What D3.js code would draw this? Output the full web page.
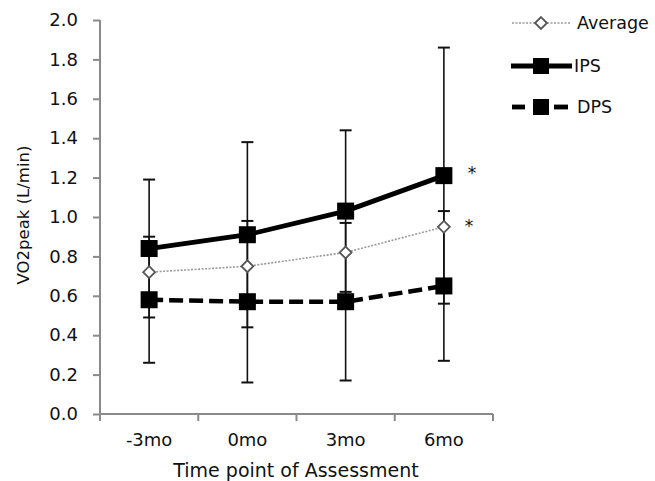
<!DOCTYPE html>
<html>
<head>
<meta charset="utf-8">
<script src="https://cdn.jsdelivr.net/npm/d3@7"></script>
<style>
  body { margin: 0; background: #fff; }
  text { font-family: "DejaVu Sans", Verdana, sans-serif; fill: #111; }
</style>
</head>
<body>
<div id="chart"></div>
<script>
const timepoints = ["-3mo", "0mo", "3mo", "6mo"]
const yTicks = [0, 0.2, 0.4, 0.6, 0.8, 1.0, 1.2, 1.4, 1.6, 1.8, 2.0]

const average = [0.72, 0.75, 0.82, 0.95]
const ips = [0.84, 0.91, 1.03, 1.21]
const ipsErr = [0.35, 0.47, 0.41, 0.65]
const dps = [0.58, 0.57, 0.57, 0.65]
const dpsErr = [0.32, 0.41, 0.40, 0.38]
const significant = ["6mo"]

const width = 655, height = 481
const margin = { top: 20, right: 162, bottom: 67, left: 100 }
const innerW = width - margin.left - margin.right
const innerH = height - margin.top - margin.bottom

const svg = d3.select("#chart")
    .append("svg")
    .attr("width", width)
    .attr("height", height)

const g = svg.append("g")
    .attr("transform", `translate(${margin.left},${margin.top})`)

const x = d3.scaleBand()
    .domain(timepoints)
    .range([0, innerW])

const y = d3.scaleLinear()
    .domain([0, 2])
    .range([innerH, 0])

const cx = d => x(d) + x.bandwidth() / 2

// y axis
const yAxis = g.append("g")
    .call(d3.axisLeft(y)
        .tickValues(yTicks)
        .tickSize(7)
        .tickPadding(15)
        .tickFormat(d3.format(".1f")))
yAxis.select(".domain").attr("stroke", "#8a8a8a").attr("stroke-width", 2).attr("d", `M0,0V${innerH}`)
yAxis.selectAll(".tick line").attr("stroke", "#8a8a8a").attr("stroke-width", 2)
yAxis.selectAll(".tick text").style("font-size", "18px").attr("fill", "#111")

// x axis, ticks sit between the categories
const xAxis = g.append("g")
    .attr("transform", `translate(0,${innerH})`)
xAxis.append("line")
    .attr("x1", 0).attr("x2", innerW)
    .attr("stroke", "#8a8a8a").attr("stroke-width", 2)
xAxis.selectAll(".xtick")
    .data(timepoints.concat(["end"]))
    .join("line")
    .attr("x1", (d, i) => i < timepoints.length ? x(d) : innerW)
    .attr("x2", (d, i) => i < timepoints.length ? x(d) : innerW)
    .attr("y1", 0).attr("y2", 7)
    .attr("stroke", "#8a8a8a").attr("stroke-width", 2)
xAxis.selectAll(".xlabel")
    .data(timepoints)
    .join("text")
    .attr("x", d => cx(d))
    .attr("y", 32)
    .attr("text-anchor", "middle")
    .style("font-size", "18px")
    .text(d => d)

svg.append("text")
    .attr("x", 296)
    .attr("y", 477)
    .attr("text-anchor", "middle")
    .style("font-size", "19px")
    .text("Time point of Assessment")

svg.append("text")
    .attr("transform", `translate(29,${margin.top + innerH / 2 - 2}) rotate(-90)`)
    .attr("text-anchor", "middle")
    .style("font-size", "16.5px")
    .text("VO2peak (L/min)")

// error bars
function errorBars(vals, errs) {
    const eb = g.append("g")
    timepoints.forEach((t, i) => {
        const lo = vals[i] - errs[i], hi = vals[i] + errs[i]
        eb.append("line")
            .attr("x1", cx(t)).attr("x2", cx(t))
            .attr("y1", y(lo)).attr("y2", y(hi))
            .attr("stroke", "#111").attr("stroke-width", 1.6)
        ;[lo, hi].forEach(v => {
            eb.append("line")
                .attr("x1", cx(t) - 6).attr("x2", cx(t) + 6)
                .attr("y1", y(v)).attr("y2", y(v))
                .attr("stroke", "#111").attr("stroke-width", 2)
        })
    })
}
errorBars(dps, dpsErr)
errorBars(ips, ipsErr)

const line = d3.line()
    .x((d, i) => cx(timepoints[i]))
    .y(d => y(d))

// average
g.append("path")
    .datum(average)
    .attr("fill", "none")
    .attr("stroke", "#9a9a9a")
    .attr("stroke-width", 1.6)
    .attr("stroke-dasharray", "2,1.5")
    .attr("d", line)

// DPS
g.append("path")
    .datum(dps)
    .attr("fill", "none")
    .attr("stroke", "#000")
    .attr("stroke-width", 4.5)
    .attr("stroke-dasharray", "14,6")
    .attr("d", line)

// IPS
g.append("path")
    .datum(ips)
    .attr("fill", "none")
    .attr("stroke", "#000")
    .attr("stroke-width", 4.8)
    .attr("d", line)

const sq = 17
function squares(vals) {
    g.selectAll(null)
        .data(vals)
        .join("rect")
        .attr("x", (d, i) => cx(timepoints[i]) - sq / 2)
        .attr("y", d => y(d) - sq / 2)
        .attr("width", sq).attr("height", sq)
        .attr("fill", "#000")
}
squares(dps)
squares(ips)

const diamond = d3.symbol().type(d3.symbolDiamond2).size(90)
g.selectAll(null)
    .data(average)
    .join("path")
    .attr("transform", (d, i) => `translate(${cx(timepoints[i])},${y(d)})`)
    .attr("d", diamond)
    .attr("fill", "#fff")
    .attr("stroke", "#555")
    .attr("stroke-width", 1.8)

// significance asterisks
significant.forEach(t => {
    const i = timepoints.indexOf(t)
    ;[[ips[i], 28, 3], [average[i], 25, 5]].forEach(([v, dx, dy]) => {
        g.append("text")
            .attr("x", cx(t) + dx)
            .attr("y", y(v) + dy)
            .attr("text-anchor", "middle")
            .style("font-size", "17px")
            .attr("fill", "#555")
            .text("*")
    })
})

// legend
const legend = svg.append("g").attr("transform", "translate(511,0)")
const items = [
    { name: "Average", y: 23 },
    { name: "IPS", y: 66 },
    { name: "DPS", y: 107 }
]
legend.append("line")
    .attr("x1", 1).attr("x2", 59).attr("y1", items[0].y).attr("y2", items[0].y)
    .attr("stroke", "#9a9a9a").attr("stroke-width", 1.6).attr("stroke-dasharray", "2,1.5")
legend.append("path")
    .attr("transform", `translate(30,${items[0].y})`)
    .attr("d", diamond)
    .attr("fill", "#fff").attr("stroke", "#555").attr("stroke-width", 1.8)
legend.append("line")
    .attr("x1", 0).attr("x2", 61).attr("y1", items[1].y).attr("y2", items[1].y)
    .attr("stroke", "#000").attr("stroke-width", 4.8)
legend.append("rect")
    .attr("x", 30 - 8).attr("y", items[1].y - 8)
    .attr("width", 16).attr("height", 16).attr("fill", "#000")
;[[1, 14], [43, 57]].forEach(([a, b]) => {
    legend.append("line")
        .attr("x1", a).attr("x2", b).attr("y1", items[2].y).attr("y2", items[2].y)
        .attr("stroke", "#000").attr("stroke-width", 4.8)
})
legend.append("rect")
    .attr("x", 30 - 8).attr("y", items[2].y - 8)
    .attr("width", 16).attr("height", 16).attr("fill", "#000")
legend.selectAll(".ltext")
    .data(items)
    .join("text")
    .attr("x", (d, i) => i === 1 ? 63 : 66)
    .attr("y", d => d.y + 6)
    .style("font-size", "17.5px")
    .text(d => d.name)
</script>
</body>
</html>
